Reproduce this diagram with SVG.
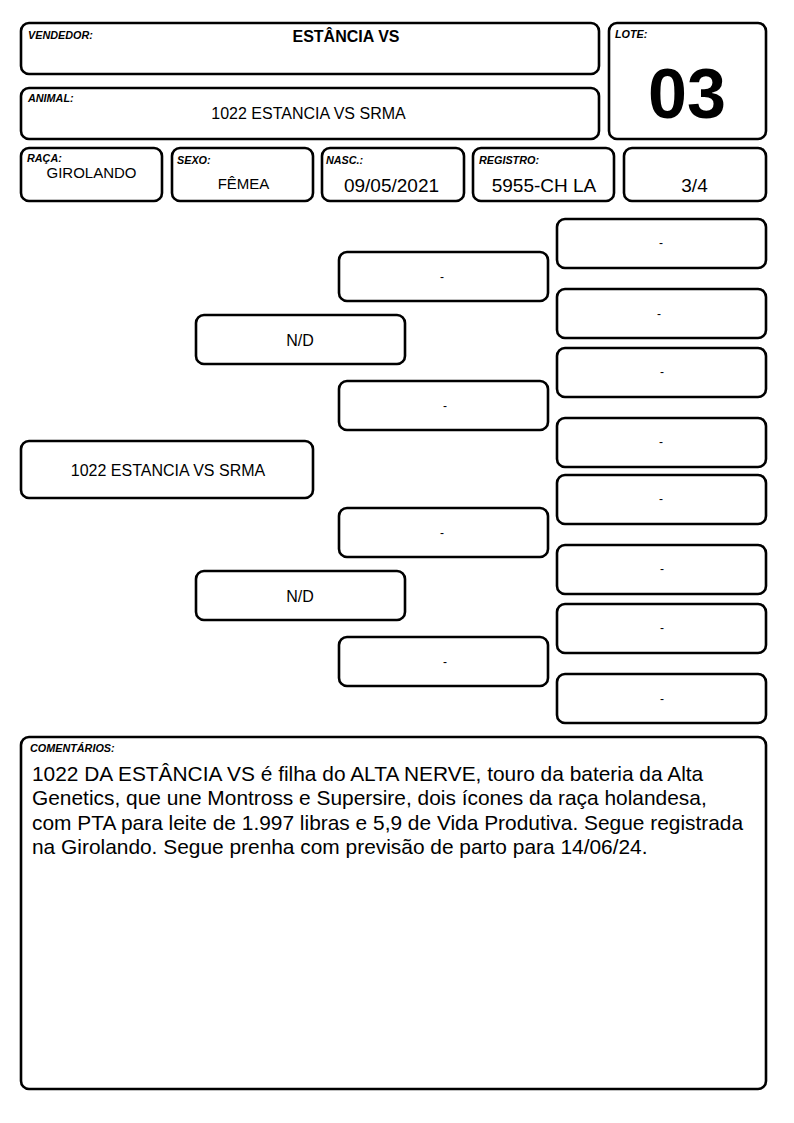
<svg xmlns="http://www.w3.org/2000/svg" width="794" height="1123" viewBox="0 0 794 1123">
<style>
.b{fill:#fff;stroke:#000;stroke-width:2.6}
.lab{font-family:"Liberation Sans",Arial,sans-serif;font-size:10.8px;font-weight:bold;font-style:italic;fill:#000}
.t{font-family:"Liberation Sans",Arial,sans-serif;fill:#000;text-anchor:middle}
.d{font-family:"Liberation Sans",Arial,sans-serif;font-size:12px;fill:#000;text-anchor:middle}
</style>
<rect width="794" height="1123" fill="#fff"/>
<g id="vendedor"><rect class="b" x="21" y="23" width="578" height="51" rx="8"/><text class="lab" x="28" y="39">VENDEDOR:</text><text class="t" x="346" y="42" font-size="16" font-weight="bold">ESTÂNCIA VS</text></g>
<g id="animal"><rect class="b" x="21" y="88" width="578" height="51" rx="8"/><text class="lab" x="28" y="102">ANIMAL:</text><text class="t" x="308.5" y="119" font-size="16">1022 ESTANCIA VS SRMA</text></g>
<g id="lote"><rect class="b" x="609" y="23" width="157" height="116" rx="8"/><text class="lab" x="615" y="38">LOTE:</text><text class="t" x="687" y="118" font-size="70" font-weight="bold">03</text></g>
<g id="raca"><rect class="b" x="21" y="148" width="141" height="53" rx="8"/><text class="lab" x="27" y="162">RAÇA:</text><text class="t" x="91.5" y="178" font-size="15">GIROLANDO</text></g>
<g id="sexo"><rect class="b" x="172" y="148" width="141" height="53" rx="8"/><text class="lab" x="177" y="164">SEXO:</text><text class="t" x="243.5" y="189" font-size="15">FÊMEA</text></g>
<g id="nasc"><rect class="b" x="322" y="148" width="142" height="53" rx="8"/><text class="lab" x="326" y="164">NASC.:</text><text class="t" x="391.5" y="192" font-size="19">09/05/2021</text></g>
<g id="registro"><rect class="b" x="473" y="148" width="141" height="53" rx="8"/><text class="lab" x="479" y="164">REGISTRO:</text><text class="t" x="544" y="192" font-size="19">5955-CH LA</text></g>
<g id="grau"><rect class="b" x="624" y="148" width="142" height="53" rx="8"/><text class="t" x="694.5" y="192" font-size="19">3/4</text></g>
<g id="connectors"></g>
<g id="p0"><rect class="b" x="21" y="441" width="292" height="57" rx="8"/><text class="t" x="168" y="476" font-size="16">1022 ESTANCIA VS SRMA</text></g>
<g id="p1"><rect class="b" x="196" y="315" width="209" height="49" rx="8"/><text class="t" x="300" y="346" font-size="16">N/D</text></g>
<g id="p2"><rect class="b" x="196" y="571" width="209" height="49" rx="8"/><text class="t" x="300" y="602" font-size="16">N/D</text></g>
<g id="p3"><rect class="b" x="339" y="252" width="209" height="49" rx="8"/><text class="d" x="442" y="281">-</text></g>
<g id="p4"><rect class="b" x="339" y="381" width="209" height="49" rx="8"/><text class="d" x="445" y="410">-</text></g>
<g id="p5"><rect class="b" x="339" y="508" width="209" height="49" rx="8"/><text class="d" x="442" y="537">-</text></g>
<g id="p6"><rect class="b" x="339" y="637" width="209" height="49" rx="8"/><text class="d" x="445" y="666">-</text></g>
<g id="p7"><rect class="b" x="557" y="219" width="209" height="49" rx="8"/><text class="d" x="661" y="247">-</text></g>
<g id="p8"><rect class="b" x="557" y="289" width="209" height="49" rx="8"/><text class="d" x="659" y="318">-</text></g>
<g id="p9"><rect class="b" x="557" y="348" width="209" height="49" rx="8"/><text class="d" x="662" y="376">-</text></g>
<g id="p10"><rect class="b" x="557" y="418" width="209" height="49" rx="8"/><text class="d" x="661" y="446">-</text></g>
<g id="p11"><rect class="b" x="557" y="475" width="209" height="49" rx="8"/><text class="d" x="661" y="503">-</text></g>
<g id="p12"><rect class="b" x="557" y="545" width="209" height="49" rx="8"/><text class="d" x="662" y="573">-</text></g>
<g id="p13"><rect class="b" x="557" y="604" width="209" height="49" rx="8"/><text class="d" x="662" y="632">-</text></g>
<g id="p14"><rect class="b" x="557" y="674" width="209" height="49" rx="8"/><text class="d" x="662" y="703">-</text></g>
<g id="comentarios"><rect class="b" x="21" y="737" width="745" height="352" rx="8"/><text class="lab" x="30" y="752">COMENTÁRIOS:</text>
<text font-family="'Liberation Sans',Arial,sans-serif" font-size="20.9" fill="#000"><tspan x="32" y="781">1022 DA ESTÂNCIA VS é filha do ALTA NERVE, touro da bateria da Alta</tspan><tspan x="32" y="805.4">Genetics, que une Montross e Supersire, dois ícones da raça holandesa,</tspan><tspan x="32" y="829.8">com PTA para leite de 1.997 libras e 5,9 de Vida Produtiva. Segue registrada</tspan><tspan x="32" y="854.2">na Girolando. Segue prenha com previsão de parto para 14/06/24.</tspan></text></g>
</svg>
